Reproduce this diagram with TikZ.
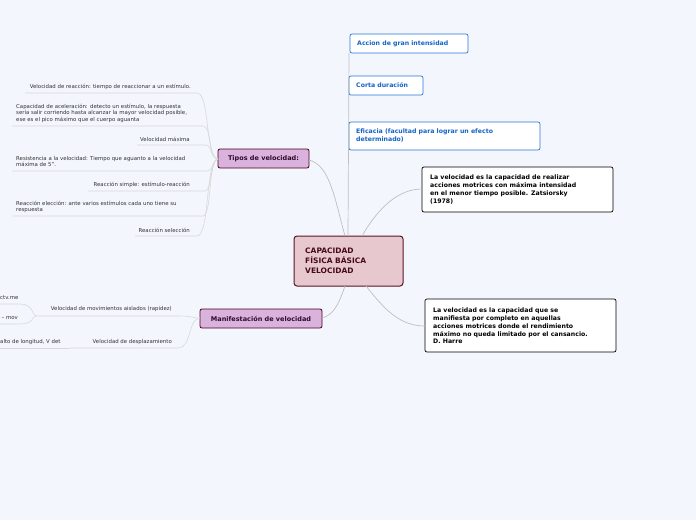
\documentclass[tikz,border=0pt]{standalone}
\usepackage{fontspec}
\setmainfont{DejaVu Sans}
\definecolor{bg}{RGB}{243,246,253}
\definecolor{tfill}{RGB}{217,178,221}
\definecolor{ttext}{RGB}{50,10,40}
\definecolor{bblue}{RGB}{40,120,215}
\definecolor{tblue}{RGB}{20,100,200}
\definecolor{cdraw}{RGB}{90,20,35}
\definecolor{cfill}{RGB}{232,200,207}
\definecolor{ctext}{RGB}{70,10,25}
\begin{document}
\begin{tikzpicture}[x=1pt,y=-1pt,
  leaf/.style={font=\fontsize{5.4}{6.5}\selectfont,text=black!80,align=left,inner sep=0pt},
  ul/.style={draw=black!15,line width=0.6pt},
  con/.style={draw=black!25,line width=0.7pt},
  topic/.style={draw=purple!40!black,line width=0.8pt,fill=tfill,rounded corners=2pt},
  ttx/.style={font=\bfseries\fontsize{6.5}{8}\selectfont,text=ttext},
  blue/.style={draw=bblue,line width=0.7pt,fill=white,rounded corners=2pt},
  btx/.style={font=\bfseries\fontsize{6.2}{8}\selectfont,text=tblue,anchor=west,align=left,inner sep=0pt},
  blk/.style={draw=black,line width=0.7pt,fill=white,rounded corners=2pt},
  ktx/.style={font=\bfseries\fontsize{6.2}{7.8}\selectfont,anchor=west,align=left,inner sep=0pt}]
\fill[bg] (0,0) rectangle (696,520);
\useasboundingbox (0,0) rectangle (696,520);
% central
\draw[draw=cdraw,line width=1pt,fill=cfill,rounded corners=3pt] (294,236) rectangle (403,286);
\node[anchor=west,align=left,font=\bfseries\fontsize{7.5}{10}\selectfont,text=ctext,inner sep=0pt] (c) at (305,261) {CAPACIDAD\\FÍSICA BÁSICA\\VELOCIDAD};
% topics
\draw[topic] (218,149) rectangle (309,168); \node[ttx] (tip) at (263.5,158.5) {Tipos de velocidad:};
\draw[topic] (200,309) rectangle (322,328); \node[ttx] (man) at (261,318.5) {Manifestación de velocidad};
\draw[con] (309,160) .. controls (330,165) and (335,200) .. (345,236);
\draw[con] (322,318) .. controls (335,315) and (340,300) .. (345,286);
% blue boxes
\draw[blue] (350,34) rectangle (468,53); \node[btx] (b1) at (357,43.5) {Accion de gran intensidad};
\draw[blue] (349,76) rectangle (423,95); \node[btx] (b2) at (356,85.5) {Corta duración};
\draw[blue] (349,122) rectangle (540,150); \node[btx] (b3) at (356,136) {Eficacia (facultad para lograr un efecto\\determinado)};
\draw[con] (348,236) -- (349,53);
% black boxes
\draw[blk] (422,167) rectangle (613,212); \node[ktx] (k1) at (430,189.5) {La velocidad es la capacidad de realizar\\acciones motrices con máxima intensidad\\en el menor tiempo posible. Zatsiorsky\\(1978)};
\draw[blk] (425,299) rectangle (616,352); \node[ktx] (k2) at (433,326) {La velocidad es la capacidad que se\\manifiesta por completo en aquellas\\acciones motrices donde el rendimiento\\máximo no queda limitado por el cansancio.\\D. Harre};
\draw[con] (362,236) .. controls (380,205) and (400,189) .. (422,189);
\draw[con] (366,286) .. controls (385,310) and (400,326) .. (425,326);
% tipos leaves
\node[leaf,anchor=east] (l1) at (191,87) {Velocidad de reacción: tiempo de reaccionar a un estímulo.};
\draw[ul] (25,93) -- (197,93) .. controls (210,93) and (205,158) .. (218,159);
\node[leaf,anchor=west] (l2) at (16,113) {Capacidad de aceleración: detecto un estímulo, la respuesta\\sería salir corriendo hasta alcanzar la mayor velocidad posible,\\ese es el pico máximo que el cuerpo aguanta};
\draw[ul] (12,126) -- (203,126) .. controls (212,126) and (208,158) .. (218,159);
\node[leaf,anchor=east] (l3) at (190,139) {Velocidad máxima};
\draw[ul] (137,145) -- (206,145) .. controls (212,145) and (210,158) .. (218,159);
\node[leaf,anchor=west] (l4) at (16,161.5) {Resistencia a la velocidad: Tiempo que aguanto a la velocidad\\máxima de 5".};
\draw[ul] (12,171) -- (208,171) .. controls (213,171) and (212,160) .. (218,159);
\node[leaf,anchor=east] (l5) at (190,185) {Reacción simple: estímulo-reacción};
\draw[ul] (88,191) -- (205,191) .. controls (212,191) and (210,160) .. (218,159);
\node[leaf,anchor=west] (l6) at (16,207) {Reacción elección: ante varios estímulos cada uno tiene su\\respuesta};
\draw[ul] (12,216) -- (203,216) .. controls (212,216) and (208,160) .. (218,159);
\node[leaf,anchor=east] (l7) at (190,230) {Reacción selección};
\draw[ul] (135,236) -- (197,236) .. controls (210,236) and (205,160) .. (218,159);
% manifestacion leaves
\node[leaf,anchor=east] (m1) at (172,309) {Velocidad de movimientos aislados (rapidez)};
\draw[ul] (36,316) -- (180,316) .. controls (192,316) and (192,318) .. (200,318);
\node[leaf,anchor=east] (m2) at (172,342) {Velocidad de desplazamiento};
\draw[ul] (70,348) -- (178,348) .. controls (192,348) and (188,318) .. (200,318);
\node[leaf,anchor=west] (g1) at (0,298) {ctv.me};
\draw[ul] (0,304) -- (20,304) .. controls (34,304) and (32,316) .. (36,316);
\node[leaf,anchor=east] (g2) at (18,318) {– mov};
\draw[ul] (0,324) -- (20,324) .. controls (34,324) and (32,316) .. (36,316);
\node[leaf,anchor=west] (g3) at (0,342) {alto de longitud, V det};
\draw[ul] (0,348) -- (70,348);
\end{tikzpicture}
\end{document}
